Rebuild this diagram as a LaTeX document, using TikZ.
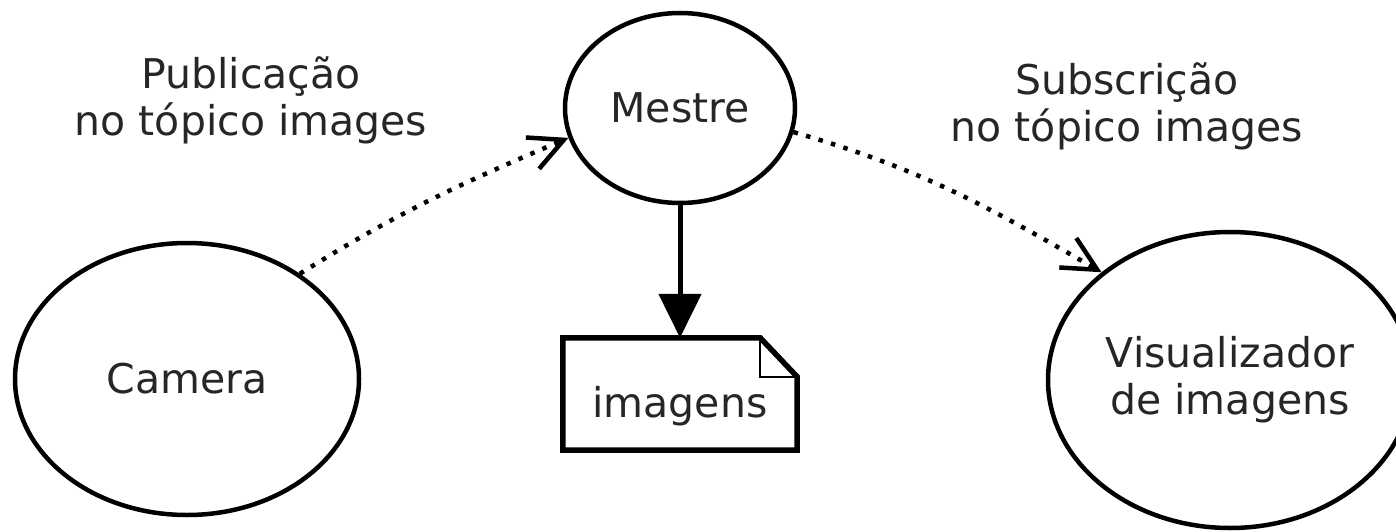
\documentclass[tikz,border=0pt]{standalone}
\usepackage{fontspec}
\setmainfont{DejaVu Sans}
\usetikzlibrary{shapes.geometric,arrows.meta}
\begin{document}
\begin{tikzpicture}[x=1pt,y=1pt,
  font=\fontsize{41}{47}\selectfont,
  every node/.style={text=black!85},
  proc/.style={ellipse,draw=black,line width=4.5pt,inner sep=0pt,align=center},
  lbl/.style={align=center,inner sep=0pt},
  pub/.style={line width=4.5pt,dash pattern=on 4.5pt off 8.5pt,
    -{Straight Barb[length=34pt,width=34pt,line width=4.5pt]}},
  store/.style={line width=5pt,-{Triangle[length=44pt,width=42pt]}},
]
\useasboundingbox (0,0) rectangle (1396,531);
\node[proc,minimum width=344pt,minimum height=272pt] (camera) at (187,152) {Camera};
\node[proc,minimum width=230pt,minimum height=190pt] (mestre) at (680,423) {Mestre};
\node[proc,minimum width=364pt,minimum height=296pt] (vis) at (1230,151) {Visualizador\\de imagens};
\node[minimum width=234pt,minimum height=112pt,inner sep=0pt,text height=46pt,text depth=0pt] (note) at (680,137) {imagens};
\draw[line width=5.5pt,line join=miter] (note.south west) -- (note.north west) -- ([xshift=-37pt]note.north east) -- ([yshift=-39pt]note.north east) -- (note.south east) -- cycle;
\draw[line width=2.5pt] ([xshift=-37pt]note.north east) |- ([yshift=-39pt]note.north east);
\node[lbl] (publbl) at (251,431) {Publicação\\no tópico images};
\node[lbl] (sublbl) at (1127,425) {Subscrição\\no tópico images};
\draw[store] (mestre) -- (note);
\draw[pub] (camera.43) to[out=32,in=203] (mestre.195);
\draw[pub] (mestre.348) to[out=-16,in=150] (vis.140);
\end{tikzpicture}
\end{document}
